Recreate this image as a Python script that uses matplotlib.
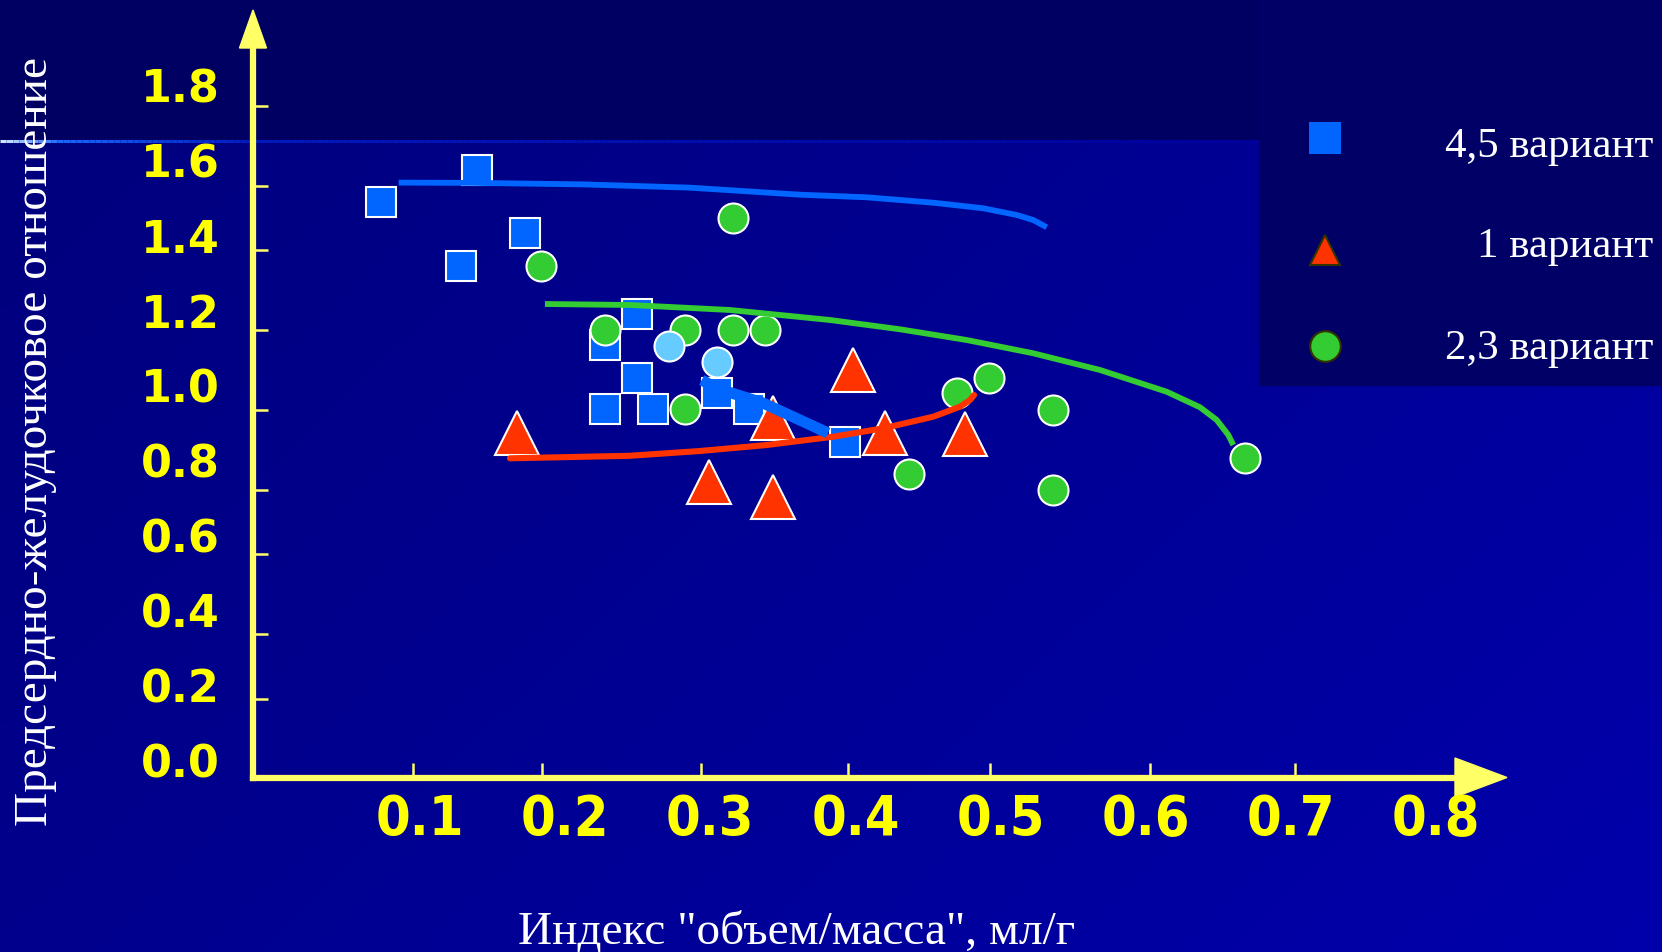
import numpy as np
import matplotlib
matplotlib.use("Agg")
import matplotlib.pyplot as plt
from matplotlib.patches import Polygon, Rectangle
from matplotlib.collections import LineCollection

# ---- data ----
# 4,5 вариант (squares)
sq_x = [0.0732, 0.1391, 0.1283, 0.1724, 0.2493, 0.2275, 0.2493, 0.2275, 0.2603, 0.3044, 0.3267, 0.3929]
sq_y = [1.491, 1.575, 1.320, 1.406, 1.192, 1.108, 1.021, 0.936, 0.936, 0.979, 0.936, 0.850]

# 2,3 вариант (circles)
ci_x = [0.3157, 0.1834, 0.2275, 0.2826, 0.3157, 0.3377, 0.2826, 0.4698, 0.4918, 0.5359, 0.6684, 0.4369, 0.5359]
ci_y = [1.448, 1.320, 1.148, 1.148, 1.148, 1.148, 0.936, 0.979, 1.021, 0.935, 0.807, 0.765, 0.722]

# light blue circles
lb_x = [0.2716, 0.3044]
lb_y = [1.106, 1.064]

# 1 вариант (triangles)
tr_x = [0.1669, 0.2992, 0.3432, 0.3432, 0.3981, 0.4205, 0.4752]
tr_y = [0.872, 0.743, 0.703, 0.914, 1.042, 0.872, 0.871]

# trend curves
blue_x = [0.0853, 0.1386, 0.2124, 0.2853, 0.3618, 0.4078, 0.4536, 0.4881, 0.5111, 0.5225, 0.5318]
blue_y = [1.5418, 1.5410, 1.5370, 1.5284, 1.5095, 1.5025, 1.4881, 1.4732, 1.4553, 1.4419, 1.4224]
green_x = [0.1861, 0.2447, 0.3136, 0.3825, 0.4307, 0.4766, 0.5225, 0.5685, 0.6144, 0.6374, 0.6489, 0.6569, 0.6603]
green_y = [1.2176, 1.2150, 1.2016, 1.1749, 1.1501, 1.1215, 1.0860, 1.0414, 0.9834, 0.9418, 0.9079, 0.8678, 0.8411]
red_x = [0.1620, 0.2444, 0.2929, 0.3389, 0.3848, 0.4192, 0.4536, 0.4720, 0.4789, 0.4817]
red_y = [0.8056, 0.8123, 0.8251, 0.8411, 0.8633, 0.8857, 0.9167, 0.9434, 0.9613, 0.9746]
thick_x = [0.2941, 0.3044, 0.3363, 0.3811]
thick_y = [1.0147, 0.9925, 0.9533, 0.8732]

# axis labels and ticks
x_labels = ["0.1", "0.2", "0.3", "0.4", "0.5", "0.6", "0.7", "0.8"]
x_label_vals = [0.1, 0.2, 0.3, 0.4, 0.5, 0.6, 0.7, 0.8]
y_labels = ["0.0", "0.2", "0.4", "0.6", "0.8", "1.0", "1.2", "1.4", "1.6", "1.8"]
y_label_vals = [0.0, 0.2, 0.4, 0.6, 0.8, 1.0, 1.2, 1.4, 1.6, 1.8]
x_tick_marks = [0.0955, 0.1839, 0.2934, 0.3949, 0.4927, 0.6030, 0.7031]
y_tick_marks = [1.746, 1.534, 1.361, 1.149, 0.934, 0.722, 0.549, 0.337, 0.164]

legend_names = ["4,5 вариант", "1 вариант", "2,3 вариант"]
ylabel = "Предсердно-желудочковое отношение"
xlabel = 'Индекс "объем/масса", мл/г'

# ---- layout (pixels) ----
W, H = 1662, 952
X0, XS = 274.8, 1451.6      # pixel of x=0, pixels per unit
Y0, YS = 760.0, 374.5       # pixel of y=0, pixels per unit
L, R, T, B = 253, 1455, 48, 777.5
YELLOW = "#FFFF66"
serif = ["Liberation Serif", "DejaVu Serif"]

fig = plt.figure(figsize=(W / 100, H / 100), dpi=100)
fig.patch.set_facecolor("#000062")

# background
bg = fig.add_axes([0, 0, 1, 1])
bg.set_xlim(0, W)
bg.set_ylim(H, 0)
bg.axis("off")

gy, gx = np.mgrid[0:1:60j, 0:1:120j]
blue = 0.49 + 0.12 * gx + 0.06 * gy
img = np.dstack([np.zeros_like(blue), np.zeros_like(blue), blue])
bg.imshow(img, extent=(0, W, H, 142), aspect="auto", interpolation="bilinear", zorder=0)
bg.add_patch(Rectangle((1259, 0), W - 1259, 385, color="#000066", zorder=1))

# highlight line on top of lighter panel
xs = np.linspace(0, 1259, 200)
segs = [[(xs[i], 141), (xs[i + 1], 141)] for i in range(len(xs) - 1)]
xm = (xs[:-1] + xs[1:]) / 2
cols = np.column_stack([
    np.interp(xm, [0, 60, 250, 1259], [0.85, 0.1, 0.0, 0.0]),
    np.interp(xm, [0, 60, 250, 1259], [0.92, 0.4, 0.1, 0.0]),
    np.interp(xm, [0, 60, 250, 1259], [1.0, 1.0, 0.75, 0.62]),
])
bg.add_collection(LineCollection(segs, colors=cols, linewidths=2.2, zorder=2))

# axis arrows
bg.add_patch(Polygon([(239.5, T), (266.5, T), (253, 10)], closed=True, color=YELLOW, zorder=3))
bg.add_patch(Polygon([(R, 758), (R, 797), (1507, B)], closed=True, color=YELLOW, zorder=3))

# legend
bg.plot(1325, 137.7, "s", ms=23.7, mfc="#0066FF", mec="#0066FF", mew=0, zorder=4)
bg.plot(1325, 249.7, "^", ms=22, mfc="#FF3300", mec="#333300", mew=1.5, zorder=4)
bg.plot(1325, 345.7, "o", ms=22, mfc="#33CC33", mec="#333300", mew=1.5, zorder=4)
for name, yb in zip(legend_names, [156.7, 256.7, 359.3]):
    bg.text(1653, yb, name, ha="right", va="baseline", fontsize=31, color="white", family=serif, zorder=4)

# axis titles
bg.text(47, 442, ylabel, rotation=90, rotation_mode="anchor", ha="center", va="baseline",
        fontsize=34, color="white", family=serif)
bg.text(796.5, 944, xlabel, ha="center", va="baseline", fontsize=34, color="white", family=serif)

# main axes
ax = fig.add_axes([L / W, 1 - B / H, (R - L) / W, (B - T) / H])
ax.patch.set_alpha(0)
ax.set_xlim((L - X0) / XS, (R - X0) / XS)
ax.set_ylim((Y0 - B) / YS, (Y0 - T) / YS)
for s in ["top", "right"]:
    ax.spines[s].set_visible(False)
for s in ["left", "bottom"]:
    ax.spines[s].set_color(YELLOW)
    ax.spines[s].set_linewidth(4.5)
    ax.spines[s].set_capstyle("projecting")

ax.set_xticks(x_tick_marks)
ax.set_yticks(y_tick_marks)
ax.tick_params(which="major", direction="in", length=11, width=1.8, color=YELLOW,
               labelbottom=False, labelleft=False)
ax.set_xticks(x_label_vals, labels=x_labels, minor=True, fontsize=40, fontweight="bold",
              color="#FFFF00", fontstretch="condensed")
ax.set_yticks(y_label_vals, labels=y_labels, minor=True, fontsize=32, fontweight="bold",
              color="#FFFF00")
ax.tick_params(axis="x", which="minor", length=0, pad=11)
ax.tick_params(axis="y", which="minor", length=0, pad=24)

ax.plot(sq_x, sq_y, "s", ls="none", ms=21.6, mfc="#0066FF", mec="white", mew=1.5, zorder=3, clip_on=False)
ax.plot(ci_x, ci_y, "o", ls="none", ms=21.6, mfc="#33CC33", mec="white", mew=1.5, zorder=4, clip_on=False)
ax.plot(lb_x, lb_y, "o", ls="none", ms=21.6, mfc="#66CCFF", mec="white", mew=1.5, zorder=5, clip_on=False)
ax.plot(tr_x, tr_y, "^", ls="none", ms=31.5, mfc="#FF3300", mec="white", mew=1.5, zorder=6, clip_on=False)

ax.plot(blue_x, blue_y, color="#0066FF", lw=4.2, solid_capstyle="butt", solid_joinstyle="round", zorder=7)
ax.plot(green_x, green_y, color="#33CC33", lw=4.2, solid_capstyle="butt", solid_joinstyle="round", zorder=7)
ax.plot(red_x, red_y, color="#FF3300", lw=4.4, solid_capstyle="round", solid_joinstyle="round", zorder=7)
ax.plot(thick_x, thick_y, color="#0066FF", lw=8, solid_capstyle="butt", solid_joinstyle="round", zorder=7)

fig.savefig("out.png", dpi=100, facecolor=fig.get_facecolor())
